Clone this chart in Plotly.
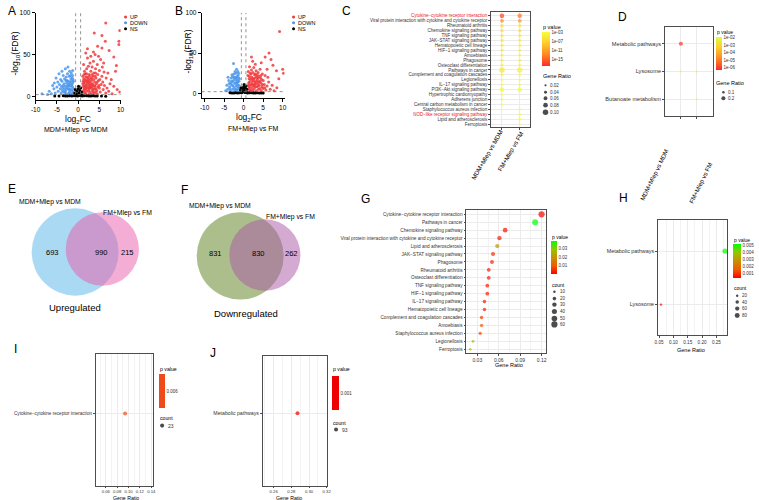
import plotly.graph_objects as go

W, H = 759, 500
FONT = "Liberation Sans, Arial, sans-serif"

# ---------------- DATA ----------------
# Volcano A: MDM+Mlep vs MDM  (log2FC, -log10 FDR)
A_up = [(1.1,2),(1.3,5),(1.5,8),(1.2,12),(1.4,16),(1.6,20),(1.1,24),(1.8,3),(2.0,6),(2.2,10),(1.9,14),(2.1,18),
        (2.3,22),(1.7,27),(2.5,2),(2.7,5),(2.6,9),(2.8,13),(2.4,17),(2.9,21),(2.6,26),(3.1,3),(3.3,7),(3.0,11),
        (3.4,15),(3.2,19),(3.5,24),(3.0,30),(3.8,4),(3.6,8),(4.0,12),(3.9,17),(4.2,22),(3.7,28),(4.5,3),(4.4,7),
        (4.7,11),(4.3,15),(4.8,19),(4.6,26),(5.2,5),(5.0,10),(5.4,14),(5.1,20),(5.6,24),(5.9,8),(6.2,13),(5.8,17),
        (6.5,4),(6.8,10),(7.2,6),(7.5,15),(8.0,3),(1.5,30),(2.0,33),(2.4,36),(1.3,38),(2.8,40),(3.3,35),(3.6,42),
        (4.1,33),(4.5,38),(5.0,31),(5.3,44),(5.7,35),(6.1,29),(2.2,46),(3.0,48),(1.8,52),(4.0,50),(4.8,48),(6.0,40),
        (6.6,22),(7.0,28),(7.8,20),(8.4,12),(9.2,8),(9.8,5),(6.5,88),(3.8,76),(5.6,73),(9.8,79),(9.6,66),(9.6,62),
        (6.4,66),(5.6,58),(8.4,47),(9.0,37),(2.2,57),(3.6,53),(4.6,60),(7.3,55),(8.8,30),(1.2,1),(1.6,4),(2.3,1),
        (2.9,2),(3.6,1),(1.4,10),(2.0,12),(2.5,14),(1.8,9),(3.3,10),(1.3,7),(1.7,11),(1.5,17),(1.9,19),(1.3,21),
        (2.2,16),(2.4,20),(2.7,18),(2.1,23),(2.9,16),(3.1,14),(3.4,12),(3.2,22),(3.7,20),(3.9,9),(4.1,5),(2.4,7),
        (2.8,10),(3.5,5),(1.1,15),(1.6,13),(2.0,27),(2.7,24),(3.3,26),(4.0,24),(4.5,17),(4.2,9),(1.2,18),(1.8,23),
        (2.5,11),(3.8,13),(4.9,13),(4.1,28),(1.4,26)]
A_down = [(-1.1,2),(-1.3,6),(-1.2,10),(-1.5,14),(-1.1,18),(-1.4,22),(-1.7,3),(-1.9,8),(-1.8,12),(-2.0,17),
          (-1.7,21),(-2.2,4),(-2.4,9),(-2.3,14),(-2.6,19),(-2.1,24),(-2.8,3),(-2.9,7),(-3.0,12),(-2.7,16),
          (-3.2,21),(-2.5,27),(-3.4,5),(-3.6,10),(-3.3,15),(-3.8,18),(-3.5,25),(-4.0,4),(-4.2,9),(-4.4,14),
          (-4.1,20),(-4.7,6),(-5.0,11),(-4.8,17),(-5.4,4),(-5.7,9),(-6.0,13),(-6.3,3),(-6.8,6),(-7.2,2),
          (-8.5,3),(-2.0,30),(-3.0,33),(-2.4,35),(-4.5,27),(-3.8,30),(-1.6,28),(-1.3,31),(-5.2,22),(-5.6,16),
          (-1.5,1),(-2.5,1),(-2.0,5),(-3.0,2),(-1.3,16),(-2.2,12),(-1.2,4),(-1.6,8),(-1.4,12),(-1.9,15),
          (-1.6,18),(-1.2,20),(-2.1,8),(-2.5,13),(-2.3,18),(-2.7,10),(-2.9,19),(-3.1,5),(-3.2,9),(-3.5,13),
          (-1.8,25),(-2.8,23),(-1.3,25),(-3.9,12),(-3.7,7)]
A_ns = [(-0.9,1),(-0.6,3),(-0.3,6),(0.0,9),(0.2,4),(0.5,2),(0.8,5),(-0.5,0.5),(0.3,1),(0.1,12),(-0.2,2),
        (0.7,1),(-0.8,4),(0.4,7),(-0.1,0.3),(1.5,0.5),(2.5,0.3),(3.5,0.6),(-1.5,0.4),(-2.5,0.3),(-3.5,0.5),
        (4.5,0.2),(-4.5,0.2),(5.5,0.3),(6.5,0.1),(-5.5,0.2),(0.9,0.8),(-0.7,8),(0.6,10),(-0.4,1.5),(0.2,2.5),
        (1.0,0.4),(2.0,0.6),(3.0,0.2),(-1.0,0.5),(-2.0,0.6),(-3.0,0.2),(4.0,0.4)]

# Volcano B: FM+Mlep vs FM
B_up = [(1.1,2),(1.3,6),(1.2,10),(1.5,14),(1.4,18),(1.1,22),(1.8,3),(2.0,7),(1.9,11),(2.2,15),(2.1,20),
        (1.7,25),(2.5,2),(2.7,6),(2.6,10),(2.9,14),(2.5,18),(2.8,23),(3.2,3),(3.4,8),(3.1,12),(3.5,17),
        (3.3,21),(3.8,5),(4.0,10),(3.9,14),(4.3,19),(4.5,3),(4.7,8),(4.4,13),(5.0,6),(5.3,11),(5.0,16),
        (5.7,4),(6.0,9),(6.4,14),(6.8,5),(7.3,10),(7.8,3),(8.5,7),(2.0,29),(2.6,32),(3.2,28),(3.7,26),
        (4.2,30),(1.5,33),(4.8,24),(5.5,22),(6.2,20),(3.0,36),(2.3,40),(9.2,77),(6.5,50),(5.5,45),(2.0,45),
        (7.0,42),(10.0,30),(10.2,25),(7.5,35),(8.4,28),(9.0,18),(6.0,30),(4.5,38),(1.2,1),(1.6,4),(2.3,1),
        (3.0,1),(1.4,8),(2.2,12),(3.6,12),(1.3,13),(1.7,17),(1.5,21),(1.9,24),(2.3,4),(2.4,9),(2.6,16),
        (2.2,18),(2.9,19),(3.0,8),(3.3,15),(3.6,19),(3.0,24),(3.7,9),(4.1,15),(4.2,6),(4.6,17),(4.8,11),
        (1.2,27),(2.4,26),(3.5,23),(1.6,10),(2.8,11),(3.9,21),(5.4,7),(4.4,22)]
B_down = [(-1.1,2),(-1.3,6),(-1.2,10),(-1.5,14),(-1.1,18),(-1.4,22),(-1.7,4),(-1.9,9),(-1.8,13),(-2.0,17),
          (-1.7,21),(-2.2,3),(-2.4,7),(-2.3,12),(-2.6,16),(-2.2,20),(-2.8,5),(-3.0,10),(-2.9,14),(-3.2,19),
          (-3.4,3),(-3.6,8),(-3.3,12),(-3.8,16),(-4.1,5),(-4.3,10),(-4.6,3),(-2.0,25),(-1.5,27),(-2.5,24),
          (-3.0,23),(-2.6,37),(-1.8,30),(-4.0,20),(-1.4,1),(-2.4,1),(-1.6,11),(-1.2,15),(-1.6,16),(-1.3,19),
          (-1.9,19),(-2.1,13),(-2.0,5),(-2.7,9),(-2.5,19),(-2.8,21),(-3.1,15),(-3.5,6),(-1.3,25),(-2.2,27),
          (-3.7,12),(-1.5,8)]
B_ns = [(-0.9,1),(-0.6,3),(-0.3,6),(0.0,8),(0.2,4),(0.5,2),(0.8,5),(-0.5,0.5),(0.3,1),(0.1,11),(-0.2,2),
        (0.7,1),(-0.8,4),(0.4,7),(1.5,0.5),(2.5,0.3),(3.5,0.6),(-1.5,0.4),(-2.5,0.3),(-3.5,0.5),(4.5,0.2),
        (5.0,0.3),(-0.7,7),(0.6,9),(-0.4,1.5),(0.2,2.5),(1.0,0.4),(2.0,0.6),(3.0,0.2),(-1.0,0.5),(-2.0,0.6),
        (-3.0,0.2),(4.0,0.4)]
fc_cut = 0.585
fdr_cut = 2

# Venn diagrams
venn_sets = ["MDM+Mlep vs MDM", "FM+Mlep vs FM"]
E_counts = [693, 990, 215]
F_counts = [831, 830, 262]

# Panel C: KEGG dot plot (two comparisons)
C_paths = ["Cytokine−cytokine receptor interaction", "Viral protein interaction with cytokine and cytokine receptor",
           "Rheumatoid arthritis", "Chemokine signaling pathway", "TNF signaling pathway", "JAK−STAT signaling pathway",
           "Hematopoietic cell lineage", "HIF−1 signaling pathway", "Amoebiasis", "Phagosome",
           "Osteoclast differentiation", "Pathways in cancer", "Complement and coagulation cascades", "Legionellosis",
           "IL−17 signaling pathway", "PI3K−Akt signaling pathway", "Hypertrophic cardiomyopathy", "Adherens junction",
           "Central carbon metabolism in cancer", "Staphylococcus aureus infection",
           "NOD−like receptor signaling pathway", "Lipid and atherosclerosis", "Ferroptosis"]
C_red_paths = ["Cytokine−cytokine receptor interaction", "NOD−like receptor signaling pathway"]
C_groups = ["MDM+Mlep vs MDM", "FM+Mlep vs FM"]
C_mdm_logp = [-16.5, -12.5, -6, -6, -5.5, -5.5, -5, -5, -4.5, -4.5, -4.5, -5, -4, -3.5, -3.5, -3.5, -3, -3, -3,
              None, None, None, None]
C_mdm_ratio = [0.08, 0.06, 0.05, 0.05, 0.045, 0.045, 0.04, 0.04, 0.035, 0.04, 0.04, 0.10, 0.03, 0.025, 0.03, 0.08,
               0.025, 0.025, 0.02, None, None, None, None]
C_fm_logp = [-13.5, -12, -5, -6, -5, -4.5, -4.5, -4.5, -4, -4, -4, -4, -3.5, -3.5, -3.5, -3, None, None, None,
             -3, -3, -2.8, -2.8]
C_fm_ratio = [0.08, 0.06, 0.045, 0.05, 0.045, 0.04, 0.04, 0.035, 0.035, 0.04, 0.035, 0.10, 0.03, 0.025, 0.03, 0.08,
              None, None, None, 0.025, 0.03, 0.04, 0.02]
C_cb_vals = [-3, -7, -11, -15]
C_cb_text = ["1e-03", "1e-07", "1e-11", "1e-15"]
C_size_legend = [0.02, 0.04, 0.06, 0.08, 0.10]

# Panel D
D_paths = ["Metabolic pathways", "Lysosome", "Butanoate metabolism"]
D_mdm_logp = [-6.1, -2.3, None]
D_mdm_ratio = [0.21, 0.05, None]
D_fm_logp = [None, -2.3, -2.2]
D_fm_ratio = [None, 0.05, 0.05]
D_cb_vals = [-2, -3, -4, -5, -6]
D_cb_text = ["1e-02", "1e-03", "1e-04", "1e-05", "1e-06"]
D_size_legend = [0.1, 0.2]

# Panel G
G_paths = ["Cytokine−cytokine receptor interaction", "Pathways in cancer", "Chemokine signaling pathway",
           "Viral protein interaction with cytokine and cytokine receptor", "Lipid and atherosclerosis",
           "JAK−STAT signaling pathway", "Phagosome", "Rheumatoid arthritis", "Osteoclast differentiation",
           "TNF signaling pathway", "HIF−1 signaling pathway", "IL−17 signaling pathway", "Hematopoietic cell lineage",
           "Complement and coagulation cascades", "Amoebiasis", "Staphylococcus aureus infection", "Legionellosis",
           "Ferroptosis"]
G_ratio = [0.120, 0.111, 0.069, 0.061, 0.058, 0.052, 0.0505, 0.046, 0.046, 0.044, 0.044, 0.040, 0.040, 0.036,
           0.036, 0.034, 0.024, 0.020]
G_p = [0.0008, 0.038, 0.002, 0.003, 0.021, 0.004, 0.004, 0.003, 0.003, 0.003, 0.003, 0.003, 0.003, 0.006, 0.009,
       0.007, 0.028, 0.029]
G_count = [60, 56, 35, 31, 29, 26, 25, 23, 23, 22, 22, 20, 20, 18, 18, 17, 12, 10]
G_count_legend = [10, 20, 30, 40, 50, 60]

# Panel H
H_paths = ["Metabolic pathways", "Lysosome"]
H_ratio = [0.280, 0.057]
H_p = [0.0051, 0.0003]
H_count = [90, 18]
H_count_legend = [20, 40, 60, 80]

# Panel I
I_paths = ["Cytokine−cytokine receptor interaction"]
I_ratio = [0.094]
I_p = [0.006]
I_count = [23]

# Panel J
J_paths = ["Metabolic pathways"]
J_ratio = [0.287]
J_p = [0.001]
J_count = [93]

# ---------------- HELPERS ----------------
def xd(a, b):
    return [a / W, b / W]

def yd(top, bottom):
    return [1 - bottom / H, 1 - top / H]

annotations = []
shapes = []

def ann(text, x, y, size, xa="center", ya="middle", color="black", angle=0):
    annotations.append(dict(text=text, x=x / W, y=1 - y / H, xref="paper", yref="paper", showarrow=False,
                            xanchor=xa, yanchor=ya, textangle=angle, borderpad=0,
                            font=dict(family=FONT, size=size, color=color)))

def aname(kind, n):
    return kind + "axis" + ("" if n == 1 else str(n))

def ref(kind, n):
    return kind + ("" if n == 1 else str(n))

layout = dict(width=W, height=H, margin=dict(l=0, r=0, t=0, b=0), paper_bgcolor="white",
              plot_bgcolor="rgba(0,0,0,0)", showlegend=False, font=dict(family=FONT, color="black"))

fig = go.Figure()

# ---------------- VOLCANO A / B ----------------
def volcano(n, up, down, ns, xdom, ydom, xr, yr):
    layout[aname("x", n)] = dict(domain=xdom, range=xr, anchor=ref("y", n), tickvals=[-10, -5, 0, 5, 10],
                                 ticktext=["-10", "-5", "0", "5", "10"],
                                 ticks="outside", ticklen=3, tickwidth=0.8, tickcolor="black", showline=True,
                                 linecolor="black", linewidth=0.8, showgrid=False, zeroline=False,
                                 tickfont=dict(size=6.5, family=FONT))
    layout[aname("y", n)] = dict(domain=ydom, range=yr, anchor=ref("x", n), tickvals=[0, 50, 100],
                                 ticks="outside", ticklen=3, tickwidth=0.8, tickcolor="black", showline=True,
                                 linecolor="black", linewidth=0.8, showgrid=False, zeroline=False,
                                 tickfont=dict(size=6.5, family=FONT))
    for pts, col, op in [(up, "#F0393C", 0.85), (down, "#4C97EA", 0.85), (ns, "black", 1.0)]:
        fig.add_trace(go.Scatter(x=[p[0] for p in pts], y=[p[1] for p in pts], mode="markers",
                                 marker=dict(size=3, color=col, opacity=op, line=dict(width=0)),
                                 xaxis=ref("x", n), yaxis=ref("y", n), hoverinfo="skip"))
    for xv in (-fc_cut, fc_cut):
        shapes.append(dict(type="line", xref=ref("x", n), yref=ref("y", n) + " domain", x0=xv, x1=xv, y0=0, y1=1,
                           line=dict(color="#777", width=0.8, dash="dot")))
    shapes.append(dict(type="line", xref=ref("x", n) + " domain", yref=ref("y", n), x0=0, x1=1, y0=fdr_cut,
                       y1=fdr_cut, line=dict(color="#777", width=0.8, dash="dot")))

volcano(1, A_up, A_down, A_ns, xd(31, 117), yd(9, 97), [-10, 10], [-4.76, 100])
volcano(2, B_up, B_down, B_ns, xd(199, 283), yd(9, 95), [-10.76, 10.5], [-6.2, 100])

ann("A", 7, 7, 12)
ann("B", 176, 7, 12)
ann("log<sub>2</sub>FC", 74, 116, 8.5)
ann("MDM+Mlep vs MDM", 72, 127, 7)
ann("-log<sub>10</sub>(FDR)", 11, 50, 8.5, angle=-90)
ann("log<sub>2</sub>FC", 247, 114, 8.5)
ann("FM+Mlep vs FM", 251, 126, 7)
ann("-log<sub>10</sub>(FDR)", 186, 48, 8.5, angle=-90)
for x0 in (125, 295):
    for lab, yy in [("UP", 13), ("DOWN", 19), ("NS", 25)]:
        ann(lab, x0, yy, 5.5, xa="left")

# ---------------- CANVAS (for legend glyphs and venn) ----------------
layout["xaxis9"] = dict(domain=[0, 1], range=[0, W], visible=False, fixedrange=True, anchor="y9")
layout["yaxis9"] = dict(domain=[0, 1], range=[H, 0], visible=False, fixedrange=True, anchor="x9")

def canvas_pts(xs, ys, sizes, colors):
    fig.add_trace(go.Scatter(x=xs, y=ys, mode="markers", marker=dict(size=sizes, color=colors, line=dict(width=0)),
                             xaxis="x9", yaxis="y9", hoverinfo="skip"))

canvas_pts([122, 122, 122, 292, 292, 292], [13, 19, 25, 13, 19, 25], 3,
           ["#F0393C", "#4C97EA", "black", "#F0393C", "#4C97EA", "black"])

# ---------------- VENN E / F ----------------
def venn(c1, r1, col1, c2, r2, col2, counts, lab_pos, num_x, num_y, title, title_pos, letter, letter_pos):
    shapes.append(dict(type="circle", xref="x9", yref="y9", x0=c1[0] - r1, x1=c1[0] + r1, y0=c1[1] - r1,
                       y1=c1[1] + r1, fillcolor=col1, opacity=0.5, line=dict(width=0), layer="below"))
    shapes.append(dict(type="circle", xref="x9", yref="y9", x0=c2[0] - r2, x1=c2[0] + r2, y0=c2[1] - r2,
                       y1=c2[1] + r2, fillcolor=col2, opacity=0.5, line=dict(width=0), layer="below"))
    for t, xx in zip(counts, num_x):
        ann(str(t), xx, num_y, 7.5)
    for s, (xx, yy) in zip(venn_sets, lab_pos):
        ann(s, xx, yy, 6.8)
    ann(title, title_pos[0], title_pos[1], 9.5)
    ann(letter, letter_pos[0], letter_pos[1], 12)

venn((71, 250), 44, "#55B4EA", (98.5, 247), 37, "#E95BA9", E_counts, [(46, 200), (124, 211)], [48, 98, 124], 250,
     "Upregulated", (71, 306), "E", (7, 186))
venn((238, 254), 44, "#597D19", (263, 253), 36, "#A955A5", F_counts, [(218, 204), (289, 215)], [213, 257, 290],
     252, "Downregulated", (244, 312), "F", (182, 188))

# ---------------- DOT PLOTS ----------------
GRID = "#EBEBEB"
BOX = "#4D4D4D"

def box_axes(n, xdom, ydom, xr, yr, xticks, yticks, yticktext, yfont, show_xlabels=True, xfmt=None,
             xminor=None, xfont=4.6, xticklen=2):
    xa = dict(domain=xdom, range=xr, anchor=ref("y", n), tickvals=xticks, showticklabels=show_xlabels,
              ticks="outside", ticklen=xticklen, tickwidth=0.6, tickcolor=BOX, showline=True, mirror=True,
              linecolor=BOX, linewidth=0.9, showgrid=True, gridcolor=GRID, gridwidth=0.6, zeroline=False,
              tickfont=dict(size=xfont, family=FONT, color="#333"))
    if xfmt:
        xa["tickformat"] = xfmt
    if xminor:
        xa["minor"] = dict(dtick=xminor, showgrid=True, gridcolor="#F3F3F3", gridwidth=0.4, ticks="")
    layout[aname("x", n)] = xa
    layout[aname("y", n)] = dict(domain=ydom, range=yr, anchor=ref("x", n), tickvals=yticks, ticktext=yticktext,
                                 ticks="outside", ticklen=2, tickwidth=0.6, tickcolor=BOX, showline=True,
                                 mirror=True, linecolor=BOX, linewidth=0.9, showgrid=True, gridcolor=GRID,
                                 gridwidth=0.6, zeroline=False, tickfont=dict(size=yfont, family=FONT, color="#333"))

def colorbar(x, top, length, thick, tv, tt):
    return dict(x=x / W, xanchor="left", y=1 - top / H, yanchor="top", len=length, lenmode="pixels",
                thickness=thick, thicknessmode="pixels", xpad=0, ypad=0, outlinewidth=0, tickvals=tv, ticktext=tt,
                ticks="", tickfont=dict(size=4.5, family=FONT, color="#333"))

# ---- C ----
def c_size(r):
    return 1.3 + 42 * r

C_scale = [[0, "#FF2A2A"], [0.35, "#FF8A22"], [0.7, "#FFD02C"], [1, "#F2FF3C"]]
C_ticktext = [("<span style='color:#E8202A'>%s</span>" % p) if p in C_red_paths else p for p in C_paths]
box_axes(3, xd(492, 531), yd(8, 124), [-0.61, 1.56], [22.6, -0.8], [0, 1], list(range(len(C_paths))),
         C_ticktext, 4.5, show_xlabels=False)
cx, cy, cc, cs = [], [], [], []
for gi, (lp, rr) in enumerate([(C_mdm_logp, C_mdm_ratio), (C_fm_logp, C_fm_ratio)]):
    for i, (l, r) in enumerate(zip(lp, rr)):
        if l is not None:
            cx.append(gi); cy.append(i); cc.append(l); cs.append(c_size(r))
fig.add_trace(go.Scatter(x=cx, y=cy, mode="markers", xaxis="x3", yaxis="y3", hoverinfo="skip",
                         marker=dict(size=cs, color=cc, colorscale=C_scale, cmin=-17.7, cmax=-2.6, showscale=True,
                                     line=dict(width=0),
                                     colorbar=colorbar(543, 28, 34, 8, C_cb_vals, C_cb_text))))
ann("C", 346, 7, 12)
ann("p value", 543, 23, 5.5, xa="left")
ann("Gene Ratio", 543, 73, 5.5, xa="left")
ann(C_groups[0], 488, 152, 6.2, angle=-60)
ann(C_groups[1], 512, 148, 6.2, angle=-60)
canvas_pts([547] * 5, [82, 89, 95, 102, 109], [c_size(v) for v in C_size_legend], "black")
for v, yy in zip(C_size_legend, [82, 89, 95, 102, 109]):
    ann("%.2f" % v, 551, yy, 4.5, xa="left", color="#333")

# ---- D ----
def d_size(r):
    return 1.2 + 14 * r

D_scale = [[0, "#FF2A2A"], [0.35, "#FF8A22"], [0.7, "#FFD02C"], [1, "#DDFF3C"]]
box_axes(4, xd(668, 717), yd(23, 113), [-1, 2.06], [2.61, -0.61], [0, 1], [0, 1, 2], D_paths, 5.6,
         show_xlabels=False)
dx, dy, dc, ds = [], [], [], []
for gi, (lp, rr) in enumerate([(D_mdm_logp, D_mdm_ratio), (D_fm_logp, D_fm_ratio)]):
    for i, (l, r) in enumerate(zip(lp, rr)):
        if l is not None:
            dx.append(gi); dy.append(i); dc.append(l); ds.append(d_size(r))
fig.add_trace(go.Scatter(x=dx, y=dy, mode="markers", xaxis="x4", yaxis="y4", hoverinfo="skip",
                         marker=dict(size=ds, color=dc, colorscale=D_scale, cmin=-6.27, cmax=-1.87, showscale=True,
                                     line=dict(width=0),
                                     colorbar=colorbar(720, 33, 33, 6, D_cb_vals, D_cb_text))))
ann("D", 625, 13, 12)
ann("p value", 720, 28, 5, xa="left")
ann("Gene Ratio", 719, 80, 5.5, xa="left")
ann(C_groups[0], 657, 172, 6.2, angle=-64)
ann(C_groups[1], 704, 180, 6.2, angle=-64)
canvas_pts([727] * 2, [89, 95], [d_size(v) for v in D_size_legend], "black")
for v, yy in zip(D_size_legend, [89, 95]):
    ann("%.1f" % v, 731, yy, 4.5, xa="left", color="#333")

# ---- G ----
RG_scale = [[0, "#FF0000"], [0.25, "#ED5E00"], [0.5, "#C98F00"], [0.75, "#94C600"], [1, "#00FF00"]]

def g_size(c):
    return 0.8 * c ** 0.5

box_axes(5, xd(467, 547), yd(208, 352), [0.0148, 0.1255], [17.5, -0.5], [0.03, 0.06, 0.09, 0.12],
         list(range(len(G_paths))), G_paths, 4.7, xfmt=".2f", xminor=0.015, xfont=5)
fig.add_trace(go.Scatter(x=G_ratio, y=list(range(len(G_paths))), mode="markers", xaxis="x5", yaxis="y5",
                         hoverinfo="skip",
                         marker=dict(size=[g_size(c) for c in G_count], color=G_p, colorscale=RG_scale,
                                     cmin=0.0005, cmax=0.038, showscale=True, line=dict(width=0),
                                     colorbar=colorbar(553, 239, 33, 6, [0.01, 0.02, 0.03],
                                                       ["0.01", "0.02", "0.03"]))))
ann("G", 365, 197, 12)
ann("Gene Ratio", 510, 364, 5.5)
ann("p value", 553, 235, 5, xa="left")
ann("count", 553, 283, 5, xa="left")
gy = [290, 297, 303, 310, 317, 323]
canvas_pts([556] * 6, gy, [g_size(c) for c in G_count_legend], "black")
for c, yy in zip(G_count_legend, gy):
    ann(str(c), 561, yy, 4.5, xa="left", color="#333")

# ---- H ----
def h_size(c):
    return 0.55 * c ** 0.5

box_axes(6, xd(661, 731), yd(218, 334), [0.047, 0.288], [1.574, -0.574], [0.05, 0.10, 0.15, 0.20, 0.25],
         [0, 1], H_paths, 5.4, xfmt=".2f", xminor=0.025, xfont=4.6)
fig.add_trace(go.Scatter(x=H_ratio, y=[0, 1], mode="markers", xaxis="x6", yaxis="y6", hoverinfo="skip",
                         marker=dict(size=[h_size(c) for c in H_count], color=H_p, colorscale=RG_scale,
                                     cmin=0.0003, cmax=0.00514, showscale=True, line=dict(width=0),
                                     colorbar=colorbar(737, 242, 34, 8, [0.001, 0.002, 0.003, 0.004, 0.005],
                                                       ["0.001", "0.002", "0.003", "0.004", "0.005"]))))
ann("H", 626, 196, 12)
ann("Gene Ratio", 694, 349, 5.5)
ann("p value", 737, 238, 5, xa="left")
ann("count", 737, 286, 5, xa="left")
hy = [294, 300.5, 307, 314]
canvas_pts([741] * 4, hy, [h_size(c) for c in H_count_legend], "black")
for c, yy in zip(H_count_legend, hy):
    ann(str(c), 745, yy, 4.5, xa="left", color="#333")

# ---- I ----
box_axes(7, xd(92, 150), yd(353, 486), [0.0426, 0.1435], [-0.55, 0.45], [0.06, 0.08, 0.10, 0.12, 0.14],
         [0], I_paths, 4.6, xfmt=".2f", xminor=0.01, xfont=4.2, xticklen=1)
fig.add_trace(go.Scatter(x=I_ratio, y=[0], mode="markers", xaxis="x7", yaxis="y7", hoverinfo="skip",
                         marker=dict(size=[0.85 * c ** 0.5 for c in I_count], color=I_p,
                                     colorscale=[[0, "#F04A1A"], [1, "#F04A1A"]], cmin=0.0055, cmax=0.0065,
                                     showscale=True, line=dict(width=0),
                                     colorbar=colorbar(156, 373, 34, 6, [0.006], ["0.006"]))))
ann("I", 11, 348, 12)
ann("Gene Ratio", 122, 497.5, 5.2)
ann("p value", 156, 368, 5.2, xa="left")
ann("count", 156, 417, 5.2, xa="left")
canvas_pts([159], [425], [0.85 * c ** 0.5 for c in I_count], "black")
ann(str(I_count[0]), 164, 425, 5, xa="left", color="#333")

# ---- J ----
box_axes(8, xd(261, 326), yd(355, 486), [0.2478, 0.3205], [-0.56, 0.44], [0.26, 0.28, 0.30, 0.32],
         [0], J_paths, 5.2, xfmt=".2f", xminor=0.01, xfont=4.2, xticklen=1)
fig.add_trace(go.Scatter(x=J_ratio, y=[0], mode="markers", xaxis="x8", yaxis="y8", hoverinfo="skip",
                         marker=dict(size=[0.42 * c ** 0.5 for c in J_count], color=J_p,
                                     colorscale=[[0, "#EE0000"], [1, "#EE0000"]], cmin=0.0005, cmax=0.0015,
                                     showscale=True, line=dict(width=0),
                                     colorbar=colorbar(331, 375, 34, 7, [0.001], ["0.001"]))))
ann("J", 210, 352, 12)
ann("Gene Ratio", 287, 497.5, 5.2)
ann("p value", 331, 368, 5.2, xa="left")
ann("count", 331, 422, 5.2, xa="left")
canvas_pts([335], [429], [0.42 * c ** 0.5 for c in J_count], "black")
ann(str(J_count[0]), 340, 429, 5, xa="left", color="#333")

layout["annotations"] = annotations
layout["shapes"] = shapes
fig.update_layout(**layout)
fig.write_html("out.html")
